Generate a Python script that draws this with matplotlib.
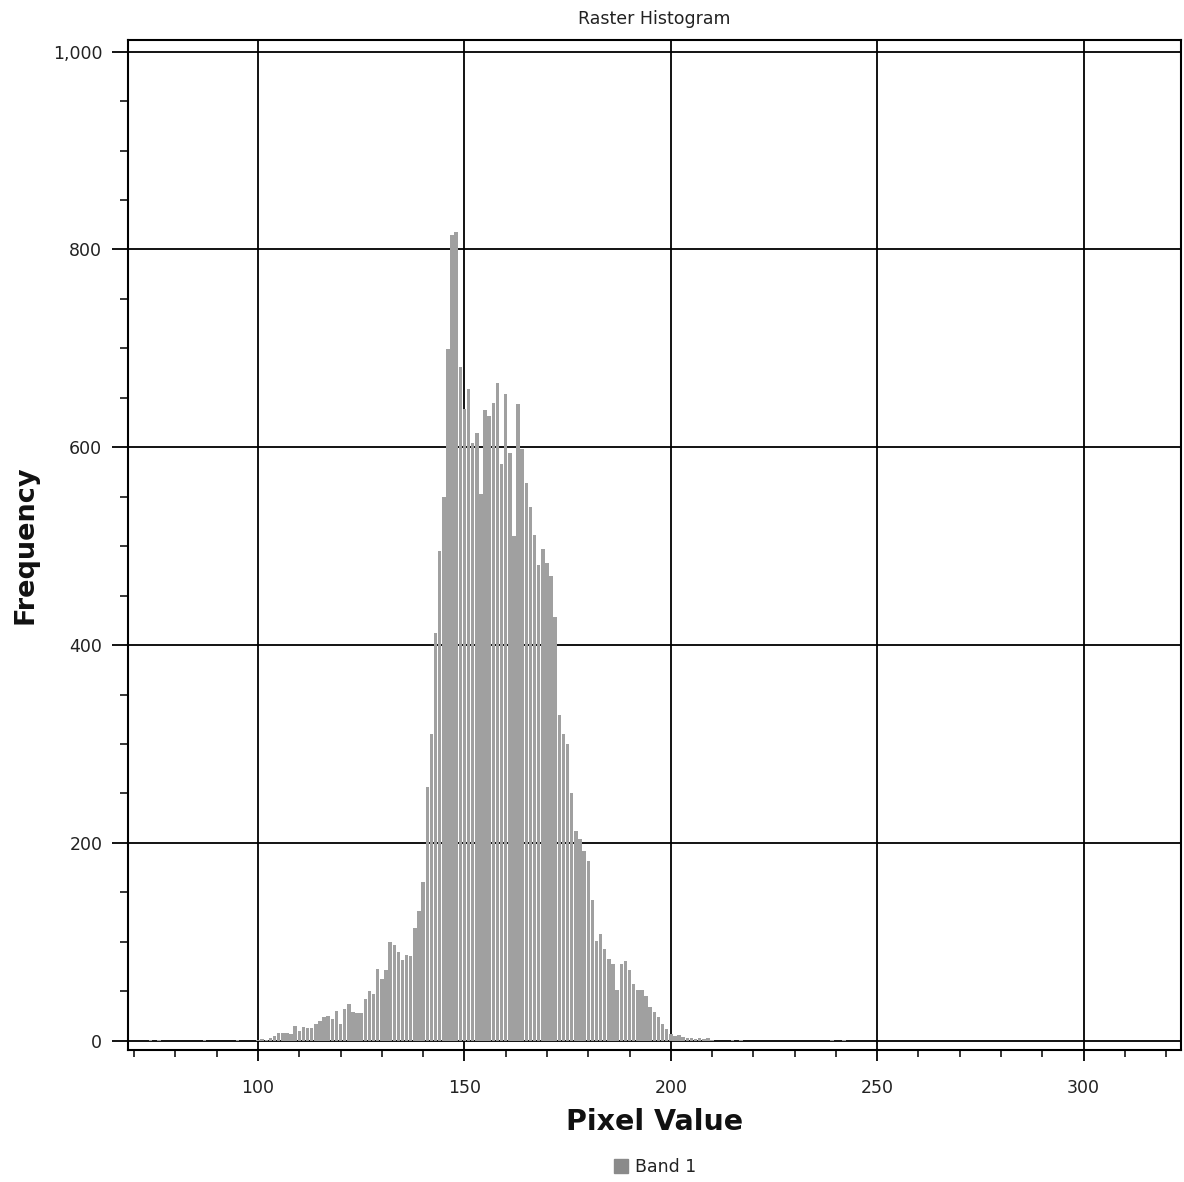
import matplotlib
matplotlib.use("Agg")
import matplotlib.pyplot as plt
from matplotlib.ticker import MultipleLocator, FuncFormatter
from matplotlib.patches import Patch

# ---- data ----
pixel_values = list(range(100, 211))
frequency = [
    1, 2, 1, 3, 5, 8, 8, 8, 7, 15,          # 100-109
    10, 14, 13, 13, 17, 20, 24, 25, 22, 30,   # 110-119
    17, 32, 37, 29, 28, 28, 42, 50, 47, 73,   # 120-129
    62, 71, 100, 97, 90, 82, 87, 86, 114, 131,  # 130-139
    160, 257, 310, 412, 495, 550, 699, 815, 818, 681,  # 140-149
    639, 659, 604, 614, 553, 638, 632, 645, 665, 583,  # 150-159
    654, 594, 510, 644, 598, 564, 540, 511, 481, 497,  # 160-169
    483, 470, 428, 329, 310, 300, 250, 212, 204, 192,  # 170-179
    182, 142, 101, 108, 93, 83, 78, 51, 78, 81,        # 180-189
    71, 57, 51, 51, 45, 34, 29, 24, 17, 12,            # 190-199
    7, 5, 6, 4, 3, 3, 2, 3, 2, 3,                      # 200-209
    1,                                                 # 210
]
sparse_values = [74, 76, 87, 95, 215, 217, 239, 242]
sparse_freq = [1, 1, 1, 1, 1, 1, 1, 1]

x_major = [100, 150, 200, 250, 300]
y_major = [0, 200, 400, 600, 800, 1000]

W, H = 1184, 1182
fig = plt.figure(figsize=(W / 100, H / 100), dpi=100)
ax = fig.add_axes([128 / W, 1 - 1050 / H, (1181 - 128) / W, (1050 - 40) / H])

bar_color = "#a0a0a0"
ax.bar(pixel_values, frequency, width=0.84, color=bar_color, linewidth=0, zorder=3)
ax.bar(sparse_values, sparse_freq, width=0.84, color=bar_color, linewidth=0, zorder=3)

ax.set_xlim(68.5, 323.6)
ax.set_ylim(-9.4, 1011.8)

ax.set_xticks(x_major)
ax.xaxis.set_minor_locator(MultipleLocator(10))
ax.set_yticks(y_major)
ax.yaxis.set_minor_locator(MultipleLocator(50))
ax.yaxis.set_major_formatter(FuncFormatter(lambda v, p: f"{v:,.0f}"))

ax.grid(True, which="major", color="black", linewidth=1.3, zorder=1)
ax.set_axisbelow(True)

for s in ax.spines.values():
    s.set_color("black")
    s.set_linewidth(1.5)

ax.tick_params(axis="x", which="major", length=8, width=1.3, pad=13, labelsize=12.5, colors="black")
ax.tick_params(axis="x", which="minor", length=5, width=1.1)
ax.tick_params(axis="y", which="major", length=11.5, width=1.3, pad=7, labelsize=12.5)
ax.tick_params(axis="y", which="minor", length=5.5, width=1.1)
for lbl in ax.get_xticklabels() + ax.get_yticklabels():
    lbl.set_color("#222222")

fig.text(654 / W, 1 - 19 / H, "Raster Histogram", ha="center", va="center", fontsize=12.5, color="#222222")
fig.text(655 / W, 1 - 1122 / H, "Pixel Value", ha="center", va="center", fontsize=20.5, fontweight="bold", color="#111111")
fig.text(26 / W, 1 - 545 / H, "Frequency", ha="center", va="center", rotation=90, fontsize=19.5, fontweight="bold", color="#111111")

handle = Patch(facecolor="#8a8a8a", edgecolor="#8a8a8a", label="Band 1")
fig.legend(handles=[handle], loc="center", bbox_to_anchor=(655 / W, 1 - 1167 / H), frameon=False,
           fontsize=12.5, handlelength=0.8, handleheight=0.8, handletextpad=0.4, labelcolor="#222222")

fig.savefig("out.png", dpi=100, facecolor="white")
